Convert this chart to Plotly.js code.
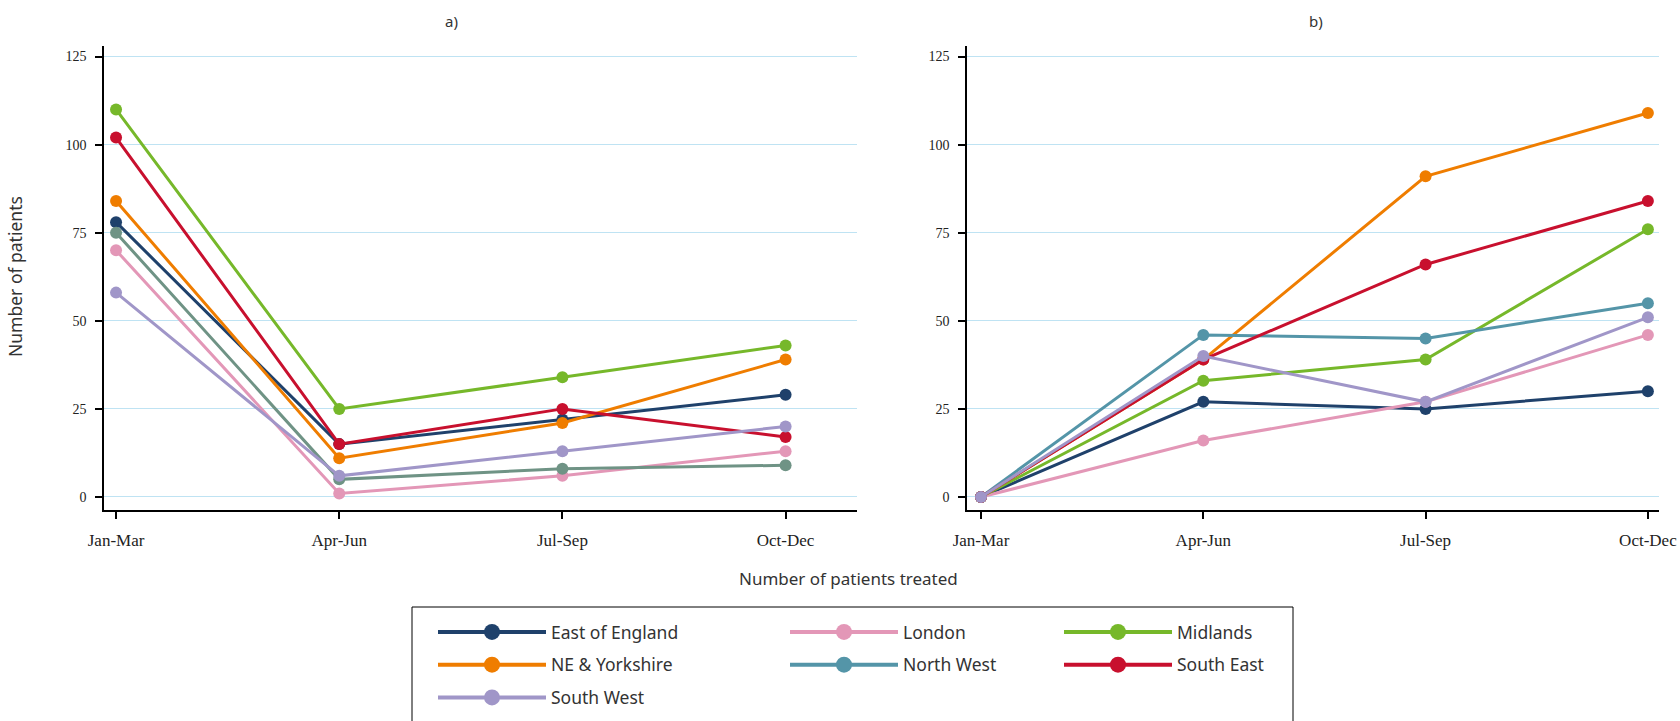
<!DOCTYPE html>
<html><head><meta charset="utf-8">
<script src="https://cdn.plot.ly/plotly-3.0.1.min.js"></script>
<style>html,body{margin:0;padding:0;background:#fff}</style>
</head><body><div id="chart" style="width:1680px;height:721px"></div>
<script>
// ---- data ----
const quarters = ['Jan-Mar', 'Apr-Jun', 'Jul-Sep', 'Oct-Dec'];
const regions = ['East of England', 'London', 'Midlands', 'NE & Yorkshire', 'North West', 'South East', 'South West'];
const yTicks = [0, 25, 50, 75, 100, 125];

// panel a)
const aEastOfEngland = [78, 15, 22, 29];
const aLondon        = [70, 1, 6, 13];
const aMidlands      = [110, 25, 34, 43];
const aNEYorkshire   = [84, 11, 21, 39];
const aNorthWest     = [75, 5, 8, 9];
const aSouthEast     = [102, 15, 25, 17];
const aSouthWest     = [58, 6, 13, 20];

// panel b)
const bEastOfEngland = [0, 27, 25, 30];
const bLondon        = [0, 16, 27, 46];
const bMidlands      = [0, 33, 39, 76];
const bNEYorkshire   = [0, 39, 91, 109];
const bNorthWest     = [0, 46, 45, 55];
const bSouthEast     = [0, 39, 66, 84];
const bSouthWest     = [0, 40, 27, 51];

const panelA = [aEastOfEngland, aLondon, aMidlands, aNEYorkshire, aNorthWest, aSouthEast, aSouthWest];
const panelB = [bEastOfEngland, bLondon, bMidlands, bNEYorkshire, bNorthWest, bSouthEast, bSouthWest];

// ---- styles ----
const colors  = ['#1f416b', '#e397b7', '#76b82a', '#ef7d00', '#5495a8', '#c8102e', '#a096c8'];
const colorsA = ['#1f416b', '#e397b7', '#76b82a', '#ef7d00', '#6f9385', '#c8102e', '#a096c8'];
const legendOf = ['legend', 'legend2', 'legend3', 'legend', 'legend2', 'legend3', 'legend'];

const traces = [];
regions.forEach((name, i) => {
  traces.push({
    type: 'scatter', mode: 'lines+markers', x: quarters, y: panelA[i], name: name,
    xaxis: 'x', yaxis: 'y', showlegend: false, hoverinfo: 'x+y+name',
    line: {color: colorsA[i], width: 3}, marker: {color: colorsA[i], size: 12}
  });
});
regions.forEach((name, i) => {
  traces.push({
    type: 'scatter', mode: 'lines+markers', x: quarters, y: panelB[i], name: name,
    xaxis: 'x2', yaxis: 'y2', showlegend: false, legendgroup: name,
    line: {color: colors[i], width: 3}, marker: {color: colors[i], size: 12}
  });
});
// legend-only entries (no points), so the key can use bigger symbols
regions.forEach((name, i) => {
  traces.push({
    type: 'scatter', mode: 'lines+markers', x: [null], y: [null], name: name,
    xaxis: 'x2', yaxis: 'y2', showlegend: true, legend: legendOf[i], legendgroup: name, hoverinfo: 'skip',
    line: {color: colors[i], width: 4}, marker: {color: colors[i], size: 18}
  });
});

const W = 1680, H = 721, T = 46, B = 211;
const ph = H - T - B;
const px = v => v / W;
const py = v => (H - B - v) / ph;

const serif = 'Liberation Serif, serif';
const sans = 'Noto Sans, Open Sans, sans-serif';

function xax(dom, range) {
  return {domain: dom, range: range, type: 'category', showline: true, linecolor: '#000', linewidth: 1.5,
    ticks: 'outside', ticklen: 7, tickwidth: 1.5, tickcolor: '#000', showgrid: false, zeroline: false,
    ticklabelstandoff: 7, tickfont: {family: serif, size: 17, color: '#222'}, fixedrange: true};
}
function yax(anchor) {
  return {anchor: anchor, range: [-3.7, 128], tickvals: yTicks, showline: true, linecolor: '#000', linewidth: 1.5,
    ticks: 'outside', ticklen: 7, tickwidth: 1.5, tickcolor: '#000', showgrid: true, gridcolor: '#bfe3f3',
    gridwidth: 1, zeroline: false, ticklabelstandoff: 6, tickfont: {family: serif, size: 14, color: '#222'},
    fixedrange: true};
}

const legendBase = {orientation: 'v', xanchor: 'left', yanchor: 'top', y: py(614),
  bgcolor: 'rgba(0,0,0,0)', borderwidth: 0, font: {family: sans, size: 17.5, color: '#333'},
  itemwidth: 108, traceorder: 'grouped', tracegroupgap: 7, itemclick: false, itemdoubleclick: false};

const layout = {
  width: W, height: H, margin: {l: 0, r: 0, t: T, b: B, pad: 0},
  paper_bgcolor: '#fff', plot_bgcolor: '#fff', showlegend: true, hovermode: 'closest',
  xaxis: xax([px(104), px(857)], [-0.054, 3.32]),
  yaxis: yax('x'),
  xaxis2: Object.assign(xax([px(967), px(1659)], [-0.063, 3.05]), {anchor: 'y2'}),
  yaxis2: yax('x2'),
  legend: Object.assign({}, legendBase, {x: px(433)}),
  legend2: Object.assign({}, legendBase, {x: px(785)}),
  legend3: Object.assign({}, legendBase, {x: px(1059)}),
  shapes: [{type: 'rect', xref: 'paper', yref: 'paper', x0: px(412), x1: px(1293), y0: py(607), y1: py(760),
    line: {color: '#000', width: 1}, fillcolor: 'rgba(0,0,0,0)'}],
  annotations: [
    {text: 'a)', xref: 'paper', yref: 'paper', x: px(451), y: py(21), xanchor: 'center', yanchor: 'middle',
      showarrow: false, font: {family: sans, size: 15, color: '#333'}},
    {text: 'b)', xref: 'paper', yref: 'paper', x: px(1316), y: py(21), xanchor: 'center', yanchor: 'middle',
      showarrow: false, font: {family: sans, size: 15, color: '#333'}},
    {text: 'Number of patients', xref: 'paper', yref: 'paper', x: px(15), y: py(277), textangle: -90,
      xanchor: 'center', yanchor: 'middle', showarrow: false, font: {family: sans, size: 17.5, color: '#333'}},
    {text: 'Number of patients treated', xref: 'paper', yref: 'paper', x: px(848), y: py(578),
      xanchor: 'center', yanchor: 'middle', showarrow: false, font: {family: sans, size: 17, color: '#333'}}
  ]
};

Plotly.newPlot('chart', traces, layout, {displayModeBar: false});
</script>
</body></html>
